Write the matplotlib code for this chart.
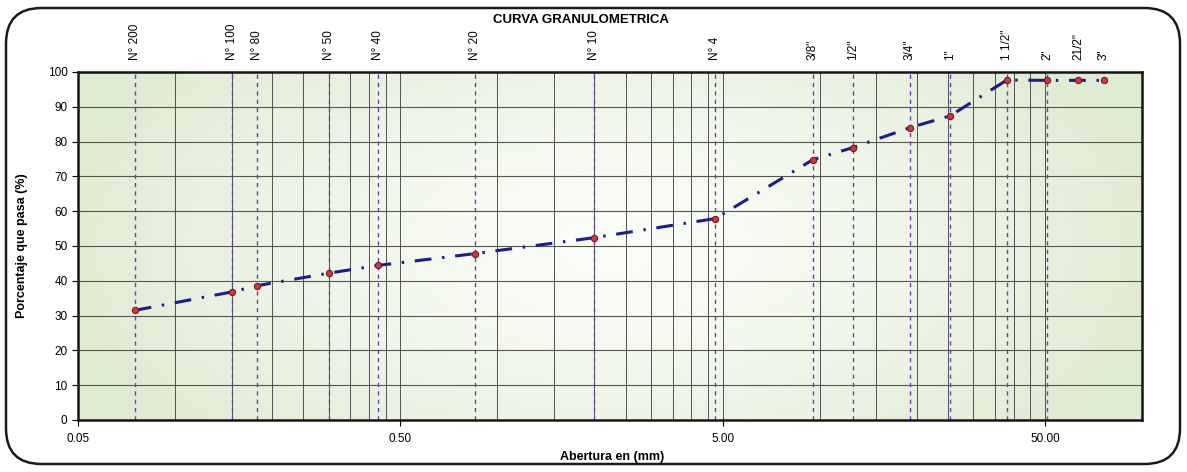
import numpy as np
import matplotlib
matplotlib.use("Agg")
import matplotlib.pyplot as plt
from matplotlib.patches import FancyBboxPatch
from matplotlib.colors import LinearSegmentedColormap
import matplotlib.transforms as mtransforms

plt.rcParams['font.family'] = ['Liberation Sans', 'DejaVu Sans']

# sieve data
tamices = ["N° 200", "N° 100", "N° 80", "N° 50", "N° 40", "N° 20", "N° 10", "N° 4",
           '3/8"', '1/2"', '3/4"', '1"', '1 1/2"', '2"', '21/2"', '3"']
abertura = [0.075, 0.150, 0.180, 0.300, 0.425, 0.850, 2.000, 4.750,
            9.525, 12.700, 19.050, 25.400, 38.100, 50.800, 63.500, 76.200]
pasa = [31.5, 36.8, 38.6, 42.2, 44.4, 47.8, 52.4, 57.9,
        74.8, 78.3, 84.0, 87.4, 97.7, 97.6, 97.6, 97.6]
# sieves that get a dashed reference line
con_linea = [True] * 14 + [False, False]

x_major = [0.05, 0.5, 5.0, 50.0]
x_major_lbl = ["0.05", "0.50", "5.00", "50.00"]
y_ticks = list(range(0, 101, 10))

W, H = 1187, 472
fig = plt.figure(figsize=(W / 100, H / 100), dpi=100)
ax = fig.add_axes([78 / W, 1 - 420 / H, (1142 - 78) / W, (420 - 72) / H])

# rounded frame around the whole chart
frame = FancyBboxPatch((6 / W, 8 / H), (1180 - 6) / W, (464 - 8) / H,
                       boxstyle="round,pad=0,rounding_size=0.03",
                       transform=fig.transFigure, fill=False, lw=1.8,
                       ec="#1a1a1a", mutation_aspect=W / H)
fig.patches.append(frame)

# pale green gradient background
gx, gy = np.meshgrid(np.linspace(-1, 1, 200), np.linspace(-1, 1, 100))
g = np.clip(np.sqrt(gx ** 2 * 0.9 + gy ** 2 * 0.35), 0, 1) ** 1.3
cmap = LinearSegmentedColormap.from_list("fondo", ["#fbfdf8", "#e0ebd3"])
ax.imshow(g, cmap=cmap, extent=[0, 1, 0, 1], transform=ax.transAxes,
          aspect='auto', zorder=0, interpolation='bilinear')

ax.set_xscale('log')
ax.set_xlim(0.05, 100)
ax.set_ylim(0, 100)

minor = [m * 0.05 * 10 ** d for d in range(4) for m in range(2, 10)]
minor = [v for v in minor if v < 100]
ax.set_xticks(x_major)
ax.set_xticklabels(x_major_lbl)
ax.set_xticks(minor, minor=True)
ax.xaxis.set_minor_formatter(matplotlib.ticker.NullFormatter())
ax.set_yticks(y_ticks)

for v in x_major + minor:
    ax.axvline(v, color="#505050", lw=0.7, zorder=1)
for v in y_ticks[1:-1]:
    ax.axhline(v, color="#55554a", lw=0.8, zorder=1)

for xa, ok in zip(abertura, con_linea):
    if ok:
        ax.axvline(xa, color="#6a40a8", lw=1.0, ls=(0, (3, 3)), zorder=2)

ax.plot(abertura, pasa, color="#1c1c8e", lw=2.2, ls=(0, (5.5, 3.5, 0.8, 3.5)),
        zorder=4)
ax.plot(abertura, pasa, ls='none', marker='o', ms=4.5, mfc="#d8343c",
        mec="#7a1424", mew=0.8, zorder=5)

trans = mtransforms.blended_transform_factory(ax.transData, ax.transAxes)
for xa, t in zip(abertura, tamices):
    ax.text(xa, 1.035, t, transform=trans, rotation=90, ha='center',
            va='bottom', fontsize=8.5)

for s in ax.spines.values():
    s.set_linewidth(1.8)
    s.set_color("#151515")
    s.set_zorder(6)

ax.tick_params(axis='both', which='major', labelsize=8.5, length=4, width=0.8)
ax.tick_params(axis='x', which='minor', length=0)
ax.tick_params(axis='x', which='major', pad=5)

ax.set_ylabel("Porcentaje que pasa (%)", fontsize=9, fontweight='bold',
              labelpad=14)
fig.text(612 / W, 1 - 457 / H, "Abertura en (mm)", ha='center',
         va='center', fontsize=9, fontweight='bold')
fig.text(581 / W, 1 - 20 / H, "CURVA GRANULOMETRICA", ha='center',
         va='center', fontsize=9.5, fontweight='bold')

fig.savefig("out.png", dpi=100)
